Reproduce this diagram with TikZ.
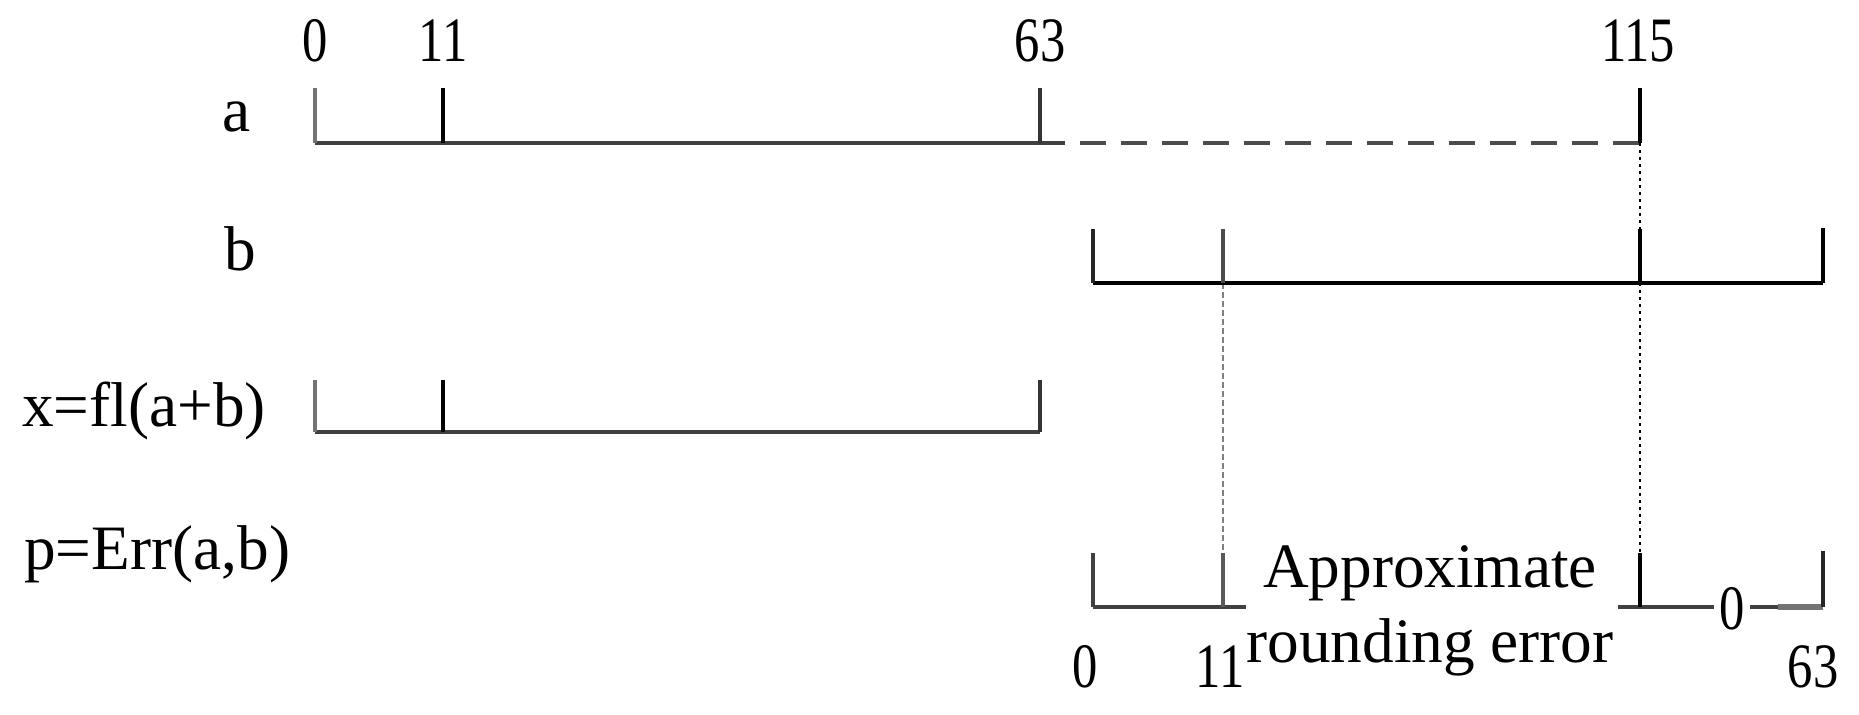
\documentclass[tikz,border=0pt]{standalone}
\usepackage{fontspec}
\setmainfont{Liberation Serif}
\usepackage{graphicx}
\newcommand\nmb[1]{\scalebox{0.8}[1]{#1}}
\tikzset{
  lbl/.style={font=\fontsize{36}{40}\selectfont, inner sep=0pt, anchor=base},
  barline/.style={line width=2.1pt, draw=black!75},
  barblack/.style={line width=2.1pt, draw=black},
  tickline/.style={line width=1.8pt, draw=black!85},
  tickgray/.style={line width=2pt, draw=black!55},
  dashline/.style={line width=2.2pt, draw=black!70, dash pattern=on 0.52cm off 0.30cm},
  guideblack/.style={line width=1pt, draw=black, dash pattern=on 0.07cm off 0.07cm},
  guidegray/.style={line width=1.4pt, draw=black!50, dash pattern=on 0.12cm off 0.06cm},
}
\begin{document}
\begin{tikzpicture}[x=0.02cm,y=-0.02cm]
\useasboundingbox (0,0) rectangle (1859,715);

% row labels
\node[lbl] (la) at (237,132) {a};
\node[lbl] (lb) at (240,271) {b};
\node[lbl,anchor=base west] (lx) at (22,427) {x=fl(a+b)};
\node[lbl,anchor=base west] (lp) at (24,570) {p=Err(a,b)};

% top bit labels
\node[lbl] (t0) at (315,62) {\nmb{0}};
\node[lbl] (t11) at (443,62) {\nmb{11}};
\node[lbl] (t63) at (1040,62) {\nmb{63}};
\node[lbl] (t115) at (1638,62) {\nmb{115}};

% bottom bit labels
\node[lbl] (b0) at (1085,687) {\nmb{0}};
\node[lbl] (b11) at (1220,687) {\nmb{11}};
\node[lbl] (b63) at (1813,687) {\nmb{63}};

% annotation
\node[lbl] (apx1) at (1430,588) {Approximate};
\node[lbl] (apx2) at (1430,663) {rounding error};

% coordinates: row a
\coordinate (a0) at (315,143);  \coordinate (a0t) at (315,88);
\coordinate (a11) at (443,143); \coordinate (a11t) at (443,88);
\coordinate (a63) at (1040,143); \coordinate (a63t) at (1040,88);
\coordinate (a63e) at (1065,143); \coordinate (ads) at (1080,143);
\coordinate (a115) at (1640,143); \coordinate (a115t) at (1640,88);
% row b
\coordinate (b0p) at (1093,283); \coordinate (b0t) at (1093,229);
\coordinate (b11p) at (1223,283); \coordinate (b11t) at (1223,229);
\coordinate (b115) at (1640,283); \coordinate (b115t) at (1640,229);
\coordinate (bend) at (1823,283); \coordinate (bendt) at (1823,228);
% row x
\coordinate (x0) at (315,432); \coordinate (x0t) at (315,380);
\coordinate (x11) at (443,432); \coordinate (x11t) at (443,380);
\coordinate (x63) at (1040,432); \coordinate (x63t) at (1040,380);
% row p
\coordinate (p0) at (1093,607); \coordinate (p0t) at (1093,553);
\coordinate (p11) at (1223,607); \coordinate (p11t) at (1223,553);
\coordinate (pl) at (1246,607);
\coordinate (pr) at (1618,607);
\coordinate (p115) at (1640,607); \coordinate (p115t) at (1640,553);
\coordinate (pthk) at (1778,607);
\coordinate (pend) at (1823,607); \coordinate (pendt) at (1823,551);

% guides
\draw[guideblack] (a115) -- (p115t);
\draw[guidegray] (b11p) -- (p11t);

% row a
\draw[barline] (a0) -- (a63e);
\draw[dashline] (ads) -- (a115);
\draw[tickgray] (a0t) -- (a0);
\draw[tickline,draw=black] (a11t) -- (a11);
\draw[tickline,draw=black!80] (a63t) -- (a63);
\draw[tickline,draw=black] (a115t) -- (a115);

% row b
\draw[barblack] (b0p) -- (bend);
\draw[tickline] (b0t) -- (b0p);
\draw[tickline,draw=black!70] (b11t) -- (b11p);
\draw[tickline,draw=black] (b115t) -- (b115);
\draw[tickline,draw=black] (bendt) -- (bend);

% row x
\draw[barline] (x0) -- (x63);
\draw[tickgray] (x0t) -- (x0);
\draw[tickline,draw=black] (x11t) -- (x11);
\draw[tickline,draw=black!80] (x63t) -- (x63);

% row p
\draw[barline] (p0) -- (pl);
\draw[tickline,draw=black!75] (p0t) -- (p0);
\draw[tickline,draw=black!65] (p11t) -- (p11);
\node[lbl,anchor=center,inner xsep=3pt] (pz) at (1732,609) {\nmb{0}};
\draw[barline] (pr) -- (pr -| pz.west);
\draw[barline] (pend -| pz.east) -- (pend);
\draw[line width=3.2pt,draw=black!55] (pthk) -- (pend);
\draw[tickline,draw=black] (p115t) -- (p115);
\draw[tickline,draw=black!85] (pendt) -- (pend);
\end{tikzpicture}
\end{document}
